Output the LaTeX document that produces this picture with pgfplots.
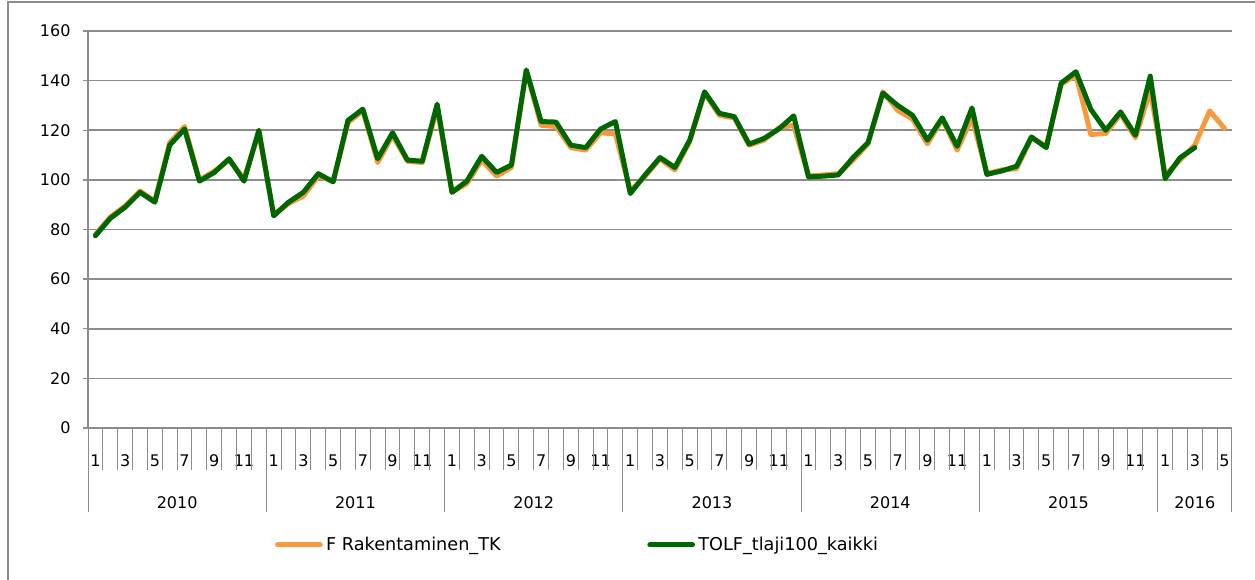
\documentclass[border=0pt]{standalone}
\usepackage{pgfplots}
\pgfplotsset{compat=1.18}
\usepackage{fontspec}
\setmainfont{DejaVu Sans}
\definecolor{rakorange}{RGB}{247,153,61}
\definecolor{tolfgreen}{RGB}{0,102,0}
\definecolor{gridgray}{RGB}{140,140,140}

% 1 px of the reference = 0.6pt
\begin{document}
\begin{tikzpicture}
\useasboundingbox (0pt,0pt) rectangle (753pt,-348pt);
\draw[gridgray,line width=0.8pt] (4.8pt,-354pt) -- (4.8pt,-1.2pt) -- (759pt,-1.2pt);
\begin{axis}[
    at={(52.8pt,-256.8pt)}, anchor=south west,
    scale only axis, width=686.4pt, height=238.2pt,
    xmin=-0.5, xmax=76.5, ymin=0, ymax=160,
    ytick={0,20,...,160},
    xtick={0,...,76},
    xticklabels={1,,3,,5,,7,,9,,11,,1,,3,,5,,7,,9,,11,,1,,3,,5,,7,,9,,11,,
                 1,,3,,5,,7,,9,,11,,1,,3,,5,,7,,9,,11,,1,,3,,5,,7,,9,,11,,1,,3,,5},
    axis lines*=left,
    axis line style={gridgray,line width=0.8pt},
    tick align=outside,
    x axis line style={-}, y axis line style={-},
    xtick style={draw=none},
    ytick style={gridgray,line width=0.8pt},
    major tick length=3pt,
    ymajorgrids,
    major grid style={gridgray,line width=1pt},
    every tick label/.append style={font=\fontsize{9.6pt}{11pt}\selectfont, text=black},
    /pgf/number format/assume math mode=true,
    xticklabel style={anchor=center, yshift=-16.8pt, inner sep=0pt},
    yticklabel style={xshift=-4pt},
    extra x ticks={5.5,17.5,29.5,41.5,53.5,65.5,74},
    extra x tick labels={2010,2011,2012,2013,2014,2015,2016},
    extra x tick style={xtick style={draw=none}, xticklabel style={yshift=-25.2pt}},
    clip=false,
    legend columns=2,
    legend style={at={(0.4285,-0.2947)}, anchor=center, draw=none,
        font=\fontsize{10.6pt}{12pt}\selectfont,
        /tikz/every even column/.append style={column sep=86pt},
        inner sep=0pt},
    legend cell align=left,
    legend image code/.code={\draw[#1] (0,0) -- (0.9cm,0);},
]
\addplot[rakorange, line width=3pt, line join=round, line cap=round] coordinates {
(0,78) (1,85) (2,89.5) (3,95.5) (4,91.5) (5,115) (6,121.5) (7,100) (8,103.5) (9,108) (10,100.5) (11,119)
(12,86) (13,90.5) (14,93.5) (15,101.5) (16,99.5) (17,123) (18,128) (19,107) (20,118) (21,107.5) (22,107) (23,129)
(24,95) (25,98.5) (26,108) (27,101.5) (28,105) (29,144) (30,122) (31,121.5) (32,113) (33,112) (34,119) (35,118.5)
(36,95.5) (37,101.5) (38,108.5) (39,104) (40,115.5) (41,135) (42,126) (43,125) (44,114) (45,116) (46,121) (47,122)
(48,101.5) (49,102) (50,102.5) (51,108) (52,114.5) (53,135.5) (54,128) (55,124.5) (56,114.5) (57,124.5) (58,112) (59,125)
(60,102.5) (61,104) (62,104.5) (63,117) (64,113.5) (65,138.5) (66,142.2) (67,118.3) (68,118.7) (69,126.5) (70,117) (71,136)
(72,102) (73,108) (74,114) (75,127.8) (76,120.7)
};
\addlegendentry{F Rakentaminen\_TK}
\addplot[tolfgreen, line width=3pt, line join=round, line cap=round] coordinates {
(0,77.5) (1,84.5) (2,89) (3,95) (4,91) (5,114) (6,120.5) (7,99.5) (8,103) (9,108.5) (10,99.5) (11,120)
(12,85.5) (13,91) (14,95) (15,102.5) (16,99.2) (17,124) (18,128.5) (19,108.5) (20,119) (21,108) (22,107.5) (23,130.5)
(24,95) (25,99.5) (26,109.5) (27,103) (28,106) (29,144.3) (30,123.5) (31,123.3) (32,114) (33,113) (34,120.5) (35,123.5)
(36,94.5) (37,102) (38,109) (39,105) (40,116) (41,135.5) (42,126.8) (43,125.5) (44,114.4) (45,116.7) (46,120.5) (47,125.8)
(48,101.2) (49,101.5) (50,102) (51,109) (52,115) (53,135) (54,130) (55,126) (56,116) (57,125) (58,113.5) (59,129)
(60,102.2) (61,103.6) (62,105.5) (63,117.3) (64,113) (65,139) (66,143.6) (67,128.4) (68,120) (69,127.4) (70,118) (71,141.8)
(72,100.5) (73,108.9) (74,113)
};
\addlegendentry{TOLF\_tlaji100\_kaikki}
% month and year separators below the axis
\pgfplotsinvokeforeach{-0.5,0.5,...,76.5}{
  \draw[gridgray,line width=0.6pt] (axis cs:#1,0) -- ++(0pt,-25.2pt);
}
\pgfplotsinvokeforeach{-0.5,11.5,23.5,35.5,47.5,59.5,71.5,76.5}{
  \draw[gridgray,line width=0.6pt] (axis cs:#1,0) -- ++(0pt,-50.4pt);
}
\end{axis}
\end{tikzpicture}
\end{document}
